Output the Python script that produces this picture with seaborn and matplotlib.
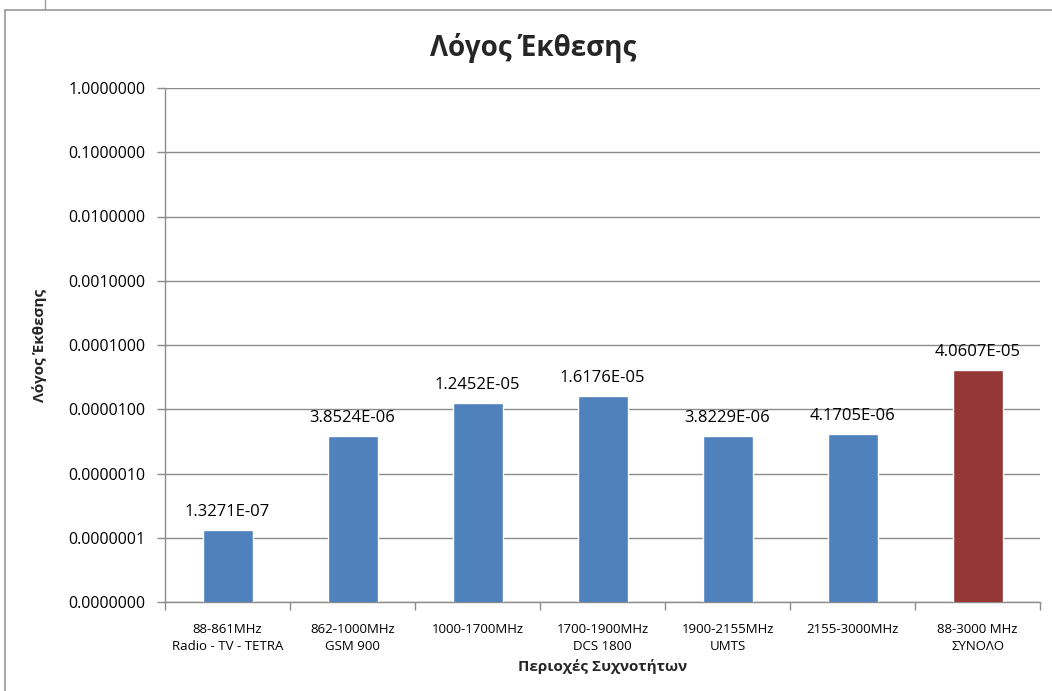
import matplotlib
matplotlib.use("Agg")
import matplotlib.pyplot as plt
import matplotlib.ticker as mticker
from matplotlib.lines import Line2D
import numpy as np
import pandas as pd
import seaborn as sns

categories = [
    "88-861MHz\nRadio - TV - TETRA",
    "862-1000MHz\nGSM 900",
    "1000-1700MHz\n",
    "1700-1900MHz\nDCS 1800",
    "1900-2155MHz\nUMTS",
    "2155-3000MHz\n",
    "88-3000 MHz\nΣΥΝΟΛΟ",
]
values = [1.3271e-07, 3.8524e-06, 1.2452e-05, 1.6176e-05, 3.8229e-06, 4.1705e-06, 4.0607e-05]
value_labels = ["1.3271E-07", "3.8524E-06", "1.2452E-05", "1.6176E-05", "3.8229E-06", "4.1705E-06", "4.0607E-05"]
bar_colors = ["#4F81BD"] * 6 + ["#953735"]
y_ticks = [1e-8, 1e-7, 1e-6, 1e-5, 1e-4, 1e-3, 1e-2, 1e-1, 1.0]

title = "Λόγος Έκθεσης"
y_label = "Λόγος Έκθεσης"
x_label = "Περιοχές Συχνοτήτων"

sns.set_theme(style="white")
plt.rcParams["font.family"] = ["Open Sans", "Noto Sans", "DejaVu Sans"]

df = pd.DataFrame({"cat": categories, "val": values})

fig = plt.figure(figsize=(10.52, 6.91), dpi=100)
ax = fig.add_axes([165 / 1052, 1 - 602 / 691, (1040 - 165) / 1052, (602 - 88) / 691])

ax.set_yscale("log")
sns.barplot(data=df, x="cat", y="val", hue="cat", palette=bar_colors,
            legend=False, width=0.4, saturation=1, ax=ax, zorder=3)
ax.set_ylim(1e-8, 1.0)
ax.set_xlim(-0.5, len(categories) - 0.5)

grid_c = "#8c8c8c"
ax.set_yticks(y_ticks)
ax.yaxis.set_major_formatter(mticker.FuncFormatter(lambda v, p: f"{v:.7f}"))
ax.yaxis.set_minor_locator(mticker.NullLocator())
ax.yaxis.grid(True, color=grid_c, linewidth=1.0, zorder=0)
ax.set_axisbelow(True)
ax.tick_params(axis="y", which="major", length=6, width=1, color=grid_c,
               labelsize=11.5, labelcolor="#000000", pad=8, direction="out", left=True)

ax.set_xticks(range(len(categories)))
ax.set_xticklabels(categories, fontsize=9.5, color="#000000", linespacing=1.45)
ax.tick_params(axis="x", which="major", length=0, pad=15)
ax.set_xticks(np.arange(-0.5, len(categories), 1.0), minor=True)
ax.tick_params(axis="x", which="minor", length=6, width=1, color=grid_c, bottom=True)

for side in ["top", "right"]:
    ax.spines[side].set_visible(False)
for side in ["left", "bottom"]:
    ax.spines[side].set_color(grid_c)
    ax.spines[side].set_linewidth(1.0)

for i, (v, lab) in enumerate(zip(values, value_labels)):
    ax.annotate(lab, (i, v), xytext=(0, 7), textcoords="offset points",
                ha="center", va="bottom", fontsize=12, color="#000000")

ax.set_ylabel(y_label, fontsize=11, fontweight="bold")
ax.set_xlabel(x_label, fontsize=11, fontweight="bold")
ax.yaxis.set_label_coords(-0.135, 0.5)
ax.xaxis.set_label_coords(0.5, -0.11)
fig.text(533 / 1052, 1 - 48 / 691, title, ha="center", va="center",
         fontsize=20, fontweight="bold")

# outer chart frame
fc = "#9a9a9a"
fig.add_artist(Line2D([5 / 1052, 5 / 1052], [0, 1 - 10 / 691], transform=fig.transFigure, color=fc, lw=1.2))
fig.add_artist(Line2D([5 / 1052, 1], [1 - 10 / 691, 1 - 10 / 691], transform=fig.transFigure, color=fc, lw=1.2))
fig.add_artist(Line2D([45 / 1052, 45 / 1052], [1 - 10 / 691, 1], transform=fig.transFigure, color=fc, lw=1.0))

fig.savefig("out.png", dpi=100, facecolor="white")
